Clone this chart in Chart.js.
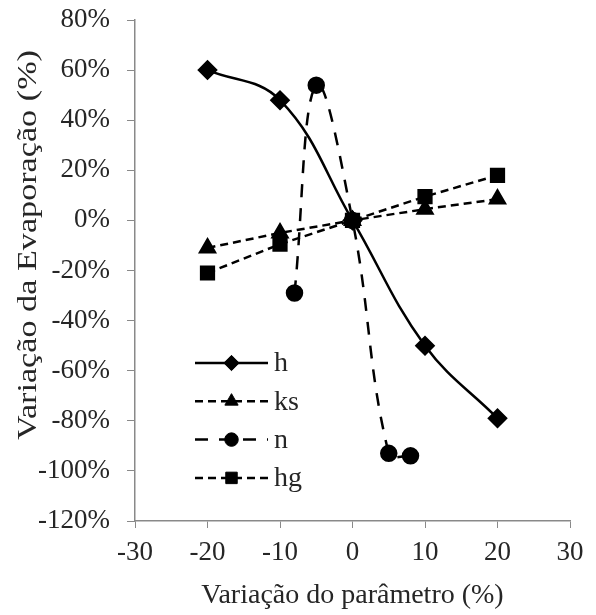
<!DOCTYPE html>
<html lang="en">
<head>
    <meta charset="UTF-8">
    <title>Variação da Evaporação</title>
    <script src="https://cdn.jsdelivr.net/npm/chart.js"></script>
    <style>
        html, body { margin: 0; width: 596px; height: 615px; background: #fff; overflow: hidden; }
    </style>
</head>
<body>
    <canvas id="myChart" width="596" height="615"></canvas>
    <script>
        // series: x = variação do parâmetro (%), y = variação da evaporação (%)
        const hX = [-20, -10, 0, 10, 20];
        const hY = [60, 48, 0, -50, -79];
        const ksX = [-20, -10, 0, 10, 20];
        const ksY = [-11, -5, 0, 4.5, 8.5];
        const nX = [-8, -5, 0, 5, 8];
        const nY = [-29, 54, 0, -93, -94];
        const hgX = [-20, -10, 0, 10, 20];
        const hgY = [-21, -9.5, 0, 9.5, 18];
        const seriesNames = ['h', 'ks', 'n', 'hg'];

        const xTicks = [-30, -20, -10, 0, 10, 20, 30];
        const yTicks = [-120, -100, -80, -60, -40, -20, 0, 20, 40, 60, 80];
        const yTitle = 'Variação da Evaporação (%)';

        const toPoints = (xs, ys) => xs.map((x, i) => ({ x: x, y: ys[i] }));

        const serif = "'Liberation Serif', 'Times New Roman', serif";
        const axisGrey = '#898989';
        const textColor = '#262626';

        // legend drawn inside the plot area, like the original
        const insideLegend = {
            id: 'insideLegend',
            afterDraw(chart) {
                const ctx = chart.ctx;
                const left = 195, lineLen = 73, top = 363, step = 38.3;
                chart.data.datasets.forEach((ds, i) => {
                    const y = top + i * step;
                    ctx.save();
                    ctx.strokeStyle = ds.borderColor;
                    ctx.lineWidth = ds.borderWidth;
                    ctx.setLineDash(ds.borderDash || []);
                    ctx.beginPath();
                    ctx.moveTo(left, y);
                    ctx.lineTo(left + lineLen, y);
                    ctx.stroke();
                    ctx.setLineDash([]);
                    ctx.fillStyle = ds.pointBackgroundColor;
                    ctx.strokeStyle = ds.pointBorderColor;
                    ctx.lineWidth = 1;
                    Chart.helpers.drawPoint(ctx, {
                        pointStyle: ds.pointStyle,
                        radius: ds.pointRadius * 0.9,
                        rotation: 0,
                        borderWidth: 1
                    }, left + lineLen / 2, y);
                    ctx.fillStyle = textColor;
                    ctx.font = '28px ' + serif;
                    ctx.textBaseline = 'middle';
                    ctx.textAlign = 'left';
                    ctx.fillText(ds.label, left + lineLen + 6, y + 1);
                    ctx.restore();
                });
            }
        };

        // the y title in the original runs long, a bit stretched along its length
        const yAxisTitle = {
            id: 'yAxisTitle',
            afterDraw(chart) {
                const ctx = chart.ctx;
                ctx.save();
                ctx.font = '27px ' + serif;
                const w = ctx.measureText(yTitle).width;
                ctx.translate(29, 245);
                ctx.rotate(-Math.PI / 2);
                ctx.scale(390 / w, 1);
                ctx.fillStyle = textColor;
                ctx.textAlign = 'center';
                ctx.textBaseline = 'middle';
                ctx.fillText(yTitle, 0, 0);
                ctx.restore();
            }
        };

        const ctx = document.getElementById('myChart').getContext('2d');
        const myChart = new Chart(ctx, {
            type: 'scatter',
            data: {
                datasets: [
                    {
                        label: seriesNames[0],
                        data: toPoints(hX, hY),
                        showLine: true,
                        tension: 0.4,
                        borderColor: '#000',
                        borderWidth: 2.5,
                        pointStyle: 'rectRot',
                        pointRadius: 8.5,
                        pointBackgroundColor: '#000',
                        pointBorderColor: '#000'
                    },
                    {
                        label: seriesNames[1],
                        data: toPoints(ksX, ksY),
                        showLine: true,
                        tension: 0,
                        borderColor: '#000',
                        borderWidth: 2.5,
                        borderDash: [8, 5],
                        pointStyle: 'triangle',
                        pointRadius: 8.5,
                        pointBackgroundColor: '#000',
                        pointBorderColor: '#000'
                    },
                    {
                        label: seriesNames[2],
                        data: toPoints(nX, nY),
                        showLine: true,
                        tension: 0.4,
                        borderColor: '#000',
                        borderWidth: 2.5,
                        borderDash: [13, 11],
                        pointStyle: 'circle',
                        pointRadius: 7.5,
                        pointBackgroundColor: '#000',
                        pointBorderColor: '#000'
                    },
                    {
                        label: seriesNames[3],
                        data: toPoints(hgX, hgY),
                        showLine: true,
                        tension: 0,
                        borderColor: '#000',
                        borderWidth: 2.5,
                        borderDash: [8, 5],
                        pointStyle: 'rect',
                        pointRadius: 9,
                        pointBackgroundColor: '#000',
                        pointBorderColor: '#000'
                    }
                ]
            },
            options: {
                responsive: false,
                animation: false,
                layout: { padding: { left: 0, right: 26, top: 20, bottom: 0 } },
                plugins: {
                    legend: { display: false },
                    tooltip: { enabled: false }
                },
                scales: {
                    x: {
                        type: 'linear',
                        min: -30,
                        max: 30,
                        afterBuildTicks(scale) { scale.ticks = xTicks.map(v => ({ value: v })); },
                        afterFit(scale) { scale.height = 94; },
                        grid: { drawOnChartArea: false, drawTicks: true, tickLength: 7, color: axisGrey },
                        border: { display: true, color: axisGrey, width: 1.5 },
                        ticks: { color: textColor, font: { family: serif, size: 27 }, padding: 9 },
                        title: { display: true, text: 'Variação do parâmetro (%)', color: textColor, font: { family: serif, size: 28 }, padding: { top: 0, bottom: 3 } }
                    },
                    y: {
                        type: 'linear',
                        min: -120,
                        max: 80,
                        afterBuildTicks(scale) { scale.ticks = yTicks.map(v => ({ value: v })); },
                        afterFit(scale) { scale.width = 135; },
                        // long tick slot so labels sit away from the axis, only the 8px next to the axis is drawn
                        grid: { drawOnChartArea: false, drawTicks: true, tickLength: 23, tickBorderDash: [8, 15], tickBorderDashOffset: 8, color: axisGrey },
                        border: { display: true, color: axisGrey, width: 1.5 },
                        ticks: { color: textColor, font: { family: serif, size: 27, lineHeight: 1 }, padding: 2, callback: v => v + '%' },
                        title: { display: false }
                    }
                }
            },
            plugins: [insideLegend, yAxisTitle]
        });
    </script>
</body>
</html>
